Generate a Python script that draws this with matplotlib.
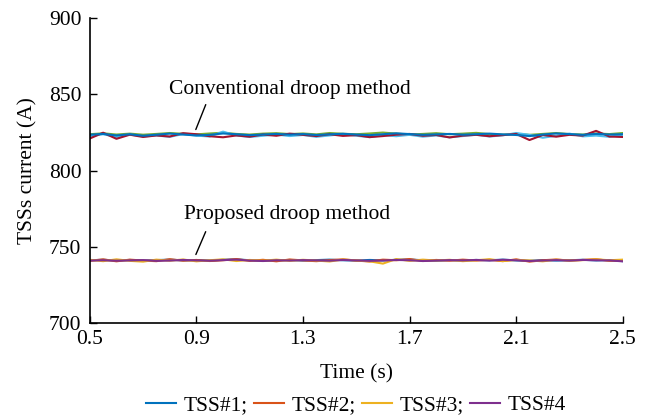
import numpy as np
import matplotlib
matplotlib.use("Agg")
import matplotlib.pyplot as plt

plt.rcParams["font.family"] = ["Liberation Serif", "DejaVu Serif"]
plt.rcParams["font.size"] = 15.5

# sample times (s)
t = np.round(np.arange(0.5, 2.5001, 0.05), 2)

# conventional droop method, TSS currents (A)
conv_1 = [823.5, 824.0, 823.0, 823.8, 822.8, 823.5, 824.2, 823.6, 823.0, 823.4,
          824.3, 823.8, 823.2, 823.6, 824.0, 823.5, 823.9, 823.3, 823.7, 824.1,
          823.6, 823.2, 823.8, 824.4, 823.9, 823.4, 823.7, 824.0, 823.5, 823.8,
          824.2, 823.7, 823.3, 822.6, 823.6, 824.3, 823.9, 823.4, 824.0, 823.6,
          823.8]
conv_2 = [821.0, 824.8, 820.8, 823.5, 822.0, 823.0, 822.3, 824.5, 823.8, 822.5,
          821.8, 823.0, 822.2, 823.6, 822.8, 824.2, 823.4, 822.6, 823.8, 822.7,
          823.2, 821.9, 822.6, 823.5, 824.0, 822.8, 823.3, 821.7, 822.9, 823.4,
          822.5, 823.2, 824.0, 820.0, 823.3, 822.2, 823.4, 822.9, 826.0, 822.3,
          822.0]
conv_3 = [823.8, 824.4, 823.6, 824.2, 823.5, 824.0, 824.6, 824.1, 823.7, 824.3,
          824.8, 824.0, 823.6, 824.2, 824.5, 823.9, 824.3, 823.7, 824.6, 824.1,
          823.8, 824.3, 824.9, 824.2, 823.6, 824.0, 824.5, 823.8, 824.2, 824.7,
          823.9, 823.5, 824.1, 823.4, 824.0, 824.6, 823.9, 823.6, 824.3, 823.9,
          824.6]
conv_4 = [822.5, 823.8, 822.0, 823.6, 822.4, 823.0, 822.1, 823.9, 822.9, 822.3,
          825.5, 823.0, 822.0, 822.8, 823.6, 822.6, 823.3, 822.1, 823.0, 824.0,
          822.8, 821.9, 823.2, 822.5, 823.4, 822.2, 823.0, 821.8, 822.6, 823.5,
          822.3, 823.1, 824.6, 823.4, 821.5, 822.8, 824.2, 822.4, 822.9, 822.1,
          823.5]

# proposed droop method, TSS currents (A)
prop_1 = [741.2, 741.5, 741.0, 741.4, 740.9, 741.3, 741.6, 741.1, 741.3, 741.0,
          741.5, 741.8, 741.2, 740.8, 741.1, 741.4, 741.0, 741.3, 741.6, 741.2,
          741.0, 741.4, 741.1, 741.5, 741.7, 741.2, 740.9, 741.3, 741.0, 741.4,
          741.2, 741.6, 741.1, 740.8, 741.3, 741.0, 741.2, 741.5, 741.1, 741.3,
          740.6]
prop_2 = [740.8, 741.8, 740.5, 741.6, 741.0, 740.6, 741.9, 740.9, 741.4, 740.7,
          741.2, 742.0, 740.8, 741.5, 740.5, 741.7, 741.1, 740.6, 741.3, 741.8,
          741.0, 740.4, 741.6, 741.2, 742.0, 740.7, 741.4, 740.9, 741.6, 741.0,
          741.5, 740.6, 741.8, 740.3, 741.2, 741.7, 741.0, 741.4, 741.9, 740.8,
          741.1]
prop_3 = [741.5, 740.6, 741.8, 740.8, 740.3, 741.6, 740.9, 741.7, 740.5, 741.2,
          741.8, 740.7, 741.4, 740.9, 741.6, 740.8, 741.5, 741.0, 740.4, 741.7,
          741.1, 740.5, 739.0, 742.0, 740.8, 741.6, 741.0, 741.5, 740.6, 741.2,
          741.9, 740.7, 741.4, 741.1, 740.5, 741.6, 741.0, 741.3, 741.8, 741.2,
          741.6]
prop_4 = [741.0, 741.2, 740.9, 741.1, 741.3, 740.8, 741.0, 741.4, 741.1, 740.9,
          741.3, 741.6, 741.0, 740.7, 741.2, 741.0, 741.3, 741.1, 740.9, 741.4,
          741.1, 740.8, 741.0, 741.4, 741.2, 740.7, 741.0, 741.3, 741.1, 741.4,
          741.0, 741.5, 741.2, 740.7, 741.0, 741.3, 741.0, 741.4, 741.2, 741.1,
          740.5]

labels = ["TSS#1;", "TSS#2;", "TSS#3;", "TSS#4"]
conv_colors = ["#0072BD", "#A2142F", "#77AC30", "#4DBEEE"]
prop_colors = ["#0072BD", "#D95319", "#EDB120", "#7E2F8E"]

fig = plt.figure(figsize=(6.46, 4.18), dpi=100)
ax = fig.add_axes([0.139, 0.227, 0.825, 0.730])

# conventional curves, drawn back to front
for y, c in zip([conv_3, conv_4, conv_2, conv_1],
                [conv_colors[2], conv_colors[3], conv_colors[1], conv_colors[0]]):
    ax.plot(t, y, color=c, lw=1.5)

handles = []
for y, c, lab in zip([prop_1, prop_2, prop_3, prop_4], prop_colors, labels):
    h, = ax.plot(t, y, color=c, lw=1.5, label=lab)
    handles.append(h)

ax.text(1.25, 853, "Conventional droop method", ha="center", va="center")
ax.annotate("", xy=(0.894, 825.2), xytext=(0.939, 844.9),
            arrowprops=dict(arrowstyle="-", lw=1.0, color="black"))
ax.text(1.24, 771, "Proposed droop method", ha="center", va="center")
ax.annotate("", xy=(0.894, 743.3), xytext=(0.939, 761.6),
            arrowprops=dict(arrowstyle="-", lw=1.0, color="black"))

ax.set_xlim(0.5, 2.5)
ax.set_ylim(700, 900)
ax.set_xticks([0.5, 0.9, 1.3, 1.7, 2.1, 2.5])
ax.set_xticklabels(["0.5", "0.9", "1.3", "1.7", "2.1", "2.5"])
ax.set_yticks([700, 750, 800, 850, 900])
ax.tick_params(direction="in", length=5, width=1.0, labelsize=15.5)
ax.tick_params(axis="y", pad=6)
ax.tick_params(axis="x", pad=5)
ax.spines["top"].set_visible(False)
ax.spines["right"].set_visible(False)
ax.spines["left"].set_linewidth(1.2)
ax.spines["bottom"].set_linewidth(1.2)
ax.set_xlabel("Time (s)", labelpad=11)
ax.set_ylabel("TSSs current (A)", labelpad=8)

fig.legend(handles=handles, loc="center", bbox_to_anchor=(0.551, 0.031), ncol=4,
           frameon=False, handlelength=1.4, columnspacing=0.3, handletextpad=0.33,
           fontsize=15.5)

fig.savefig("out.png", dpi=100)
